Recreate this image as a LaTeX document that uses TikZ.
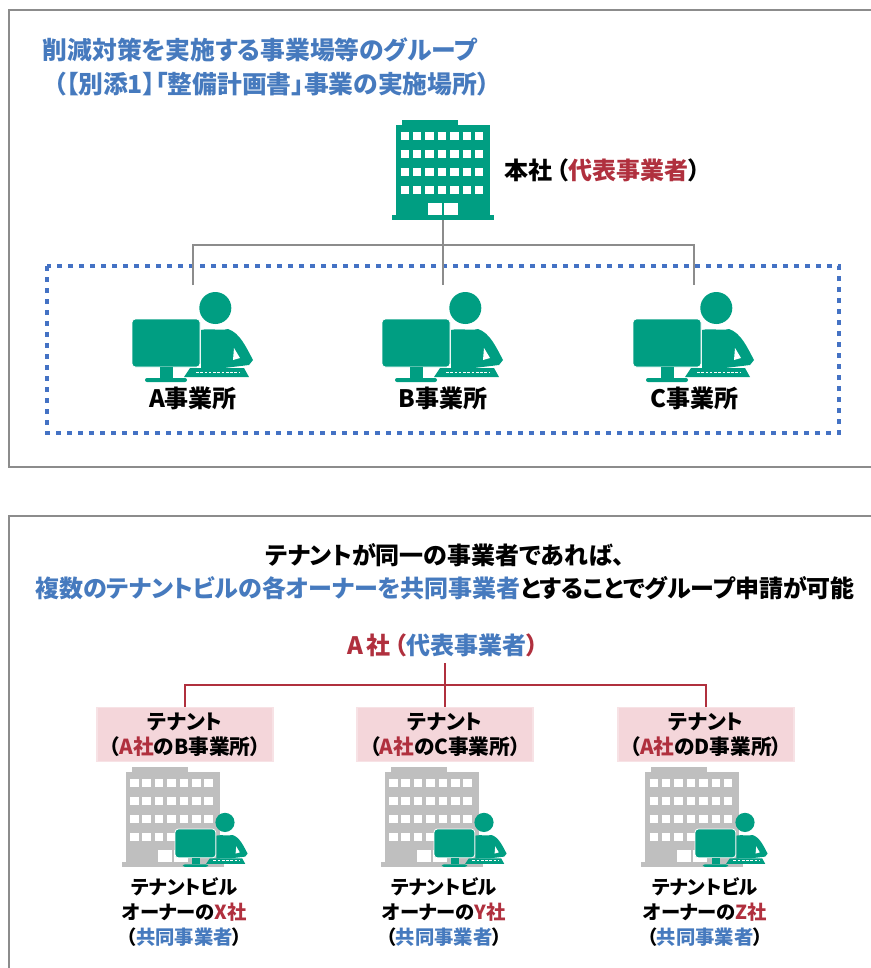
\documentclass[tikz,border=0pt]{standalone}
\usepackage{fontspec}
\setmainfont{Noto Sans CJK JP}[RawFeature=+palt]
\usepackage{xcolor}
\definecolor{plainblue}{RGB}{68, 114, 196}
\definecolor{titleblue}{RGB}{70, 122, 190}
\definecolor{ownerred}{RGB}{176, 48, 62}
\definecolor{iconteal}{RGB}{0, 158, 130}
\definecolor{frameline}{RGB}{140, 140, 140}
\definecolor{towergrey}{RGB}{191, 191, 191}
\definecolor{tenantpink}{RGB}{244, 214, 218}

\begin{document}
\begin{tikzpicture}[
    x=0.75pt, y=-0.75pt,
    frame/.style={draw=frameline, line width=1.1pt},
    link/.style={draw=frameline, line width=1pt},
    redlink/.style={draw=ownerred, line width=1pt},
    dotbox/.style={draw=plainblue, line width=3.4pt, dash pattern=on 3.6pt off 4.65pt},
    title/.style={align=center, font=\fontsize{18.6}{25}\selectfont\bfseries},
    widetitle/.style={align=center, font=\fontsize{18}{25}\selectfont\bfseries},
    label/.style={align=center, font=\fontsize{18}{19}\selectfont\bfseries},
    small/.style={align=center, font=\fontsize{14.5}{18.5}\selectfont\bfseries},
    tenant/.style={align=center, font=\fontsize{15.5}{18.5}\selectfont\bfseries,
                   fill=tenantpink, draw=tenantpink!70, line width=0.8pt,
                   minimum width=132pt, minimum height=41pt, inner sep=0pt},
    iconbox/.style={minimum width=76pt, minimum height=75pt, inner sep=0pt},
    tower/.pic={
      \fill[#1] (-47,-45) rectangle (47,45);
      \fill[#1] (-41,-50) rectangle (15,-45);
      \fill[#1] (-51,45) rectangle (51,50);
      \draw[white, line width=6pt, dash pattern=on 6.4pt off 2.9pt] (-42.5,-34) -- (44,-34);
      \draw[white, line width=6pt, dash pattern=on 6.4pt off 2.9pt] (-42.5,-16) -- (44,-16);
      \draw[white, line width=6pt, dash pattern=on 6.4pt off 2.9pt] (-42.5,2) -- (44,2);
      \draw[white, line width=6pt, dash pattern=on 6.4pt off 2.9pt] (-42.5,20) -- (44,20);
      \fill[white] (-15,33) rectangle (-1,45);
      \fill[white] (1,33) rectangle (15,45);
    },
    worker/.pic={
      \fill[iconteal] (83.3,-11) circle (16);
      \fill[iconteal] (69,11) .. controls (78,9) and (88,12) .. (96,10)
        .. controls (108,14) and (114,28) .. (121,41) -- (117,46) -- (92,49) -- (69,49) -- cycle;
      \fill[white] (102,29) -- (108,39) -- (101,41) -- cycle;
      \fill[iconteal] (58,49) -- (112,49) -- (117,58) -- (52,58) -- cycle;
      \draw[white, line width=0.6pt, dash pattern=on 2pt off 1.2pt] (64,53) -- (108,53);
      \fill[iconteal, draw=white, line width=0.6pt, rounded corners=2.5pt] (0,0) rectangle (68,48);
      \fill[iconteal] (28,48) rectangle (41,59);
      \fill[iconteal, rounded corners=1.5pt] (13,59) rectangle (55,63);
    },
  ]
    \useasboundingbox (0,0) rectangle (871,968);

    % Upper panel
    \draw[frame] (871,10) -| (9,467) -- (871,467);
    \node[title, text=titleblue, anchor=west, align=left] (grouptitle) at (38,67)
      {削減対策を実施する事業場等のグループ\\\hspace*{8pt}（【別添1】「整備計画書」事業の実施場所）};

    % Head office
    \node[iconbox] (hq) at (443,170) {};
    \pic at (hq.center) {tower=iconteal};
    \node[label, anchor=west] (hqlabel) at (500,170) {本社\hspace{3pt}（\textcolor{ownerred}{代表事業者}）\hspace{3pt}};

    % Offices
    \draw[dotbox] (47,266) rectangle (839,433);
    \coordinate (tapA) at (193,285);
    \coordinate (tapB) at (443,285);
    \coordinate (tapC) at (694,285);
    \coordinate (busA) at (443,245);
    \pic at (132,319) {worker};
    \pic at (382,319) {worker};
    \pic at (633,319) {worker};
    \node[label] (officeA) at (193,398) {A事業所};
    \node[label] (officeB) at (443,398) {B事業所};
    \node[label] (officeC) at (694,398) {C事業所};

    % Arrows
    \draw[link] (tapA) |- (busA) -| (tapC);
    \draw[link] (hq.south) -- (tapB);

    % Lower panel
    \draw[frame] (871,516) -| (9,969);
    \node[widetitle] (lowertitle) at (445,572)
      {テナントが同一の事業者であれば、\\\textcolor{titleblue}{複数のテナントビルの各オーナーを共同事業者}とすることでグループ申請が可能};

    % Lead company
    \node[label, text=ownerred] (lead) at (443,645) {A\hspace{3pt}社\hspace{3pt}（\textcolor{titleblue}{代表事業者}）};

    % Tenants
    \node[tenant] (tenantA) at (185,734.5) {テナント\\（\textcolor{ownerred}{A社}のB事業所）};
    \node[tenant] (tenantB) at (445,734.5) {テナント\\（\textcolor{ownerred}{A社}のC事業所）};
    \node[tenant] (tenantC) at (706,734.5) {テナント\\（\textcolor{ownerred}{A社}のD事業所）};
    \coordinate (busB) at (445,685);
    \coordinate (leadfoot) at (445,663);

    % Towers
    \pic at (172.5,817) {tower=towergrey};
    \pic at (431.5,817) {tower=towergrey};
    \pic at (692,817) {tower=towergrey};
    \pic[scale=0.6] at (175,829) {worker};
    \pic[scale=0.6] at (434,829) {worker};
    \pic[scale=0.6] at (695,829) {worker};

    % Owners
    \node[small] (ownerX) at (184.5,912) {テナントビル\\オーナーの\textcolor{ownerred}{X社}\\（\textcolor{titleblue}{共同事業者}）};
    \node[small] (ownerY) at (444,912) {テナントビル\\オーナーの\textcolor{ownerred}{Y社}\\（\textcolor{titleblue}{共同事業者}）};
    \node[small] (ownerZ) at (705,912) {テナントビル\\オーナーの\textcolor{ownerred}{Z社}\\（\textcolor{titleblue}{共同事業者}）};

    % Arrows
    \draw[redlink] (leadfoot) -- (tenantB.north);
    \draw[redlink] (tenantA.north) |- (busB) -| (tenantC.north);
  \end{tikzpicture}
\end{document}
